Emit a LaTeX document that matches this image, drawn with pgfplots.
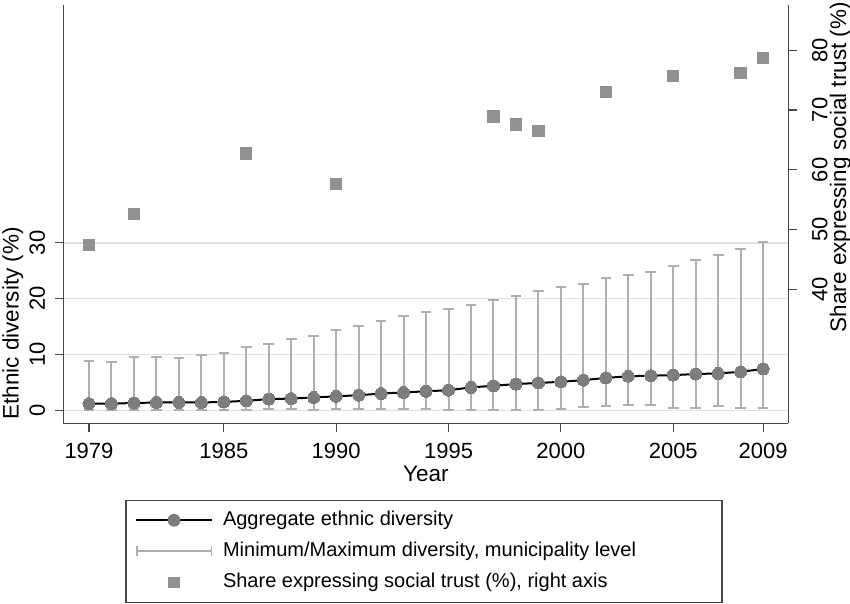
\documentclass[border=0pt]{standalone}
\usepackage{fontspec}
\setmainfont{Liberation Sans}
\usepackage{pgfplots}
\pgfplotsset{compat=1.18}
\usepackage{pgfplotstable}
\definecolor{markgray}{RGB}{125,125,125}
\definecolor{errgray}{RGB}{175,175,175}
\definecolor{sqgray}{RGB}{145,145,145}
\definecolor{gridgray}{RGB}{225,225,225}
\definecolor{axisgray}{RGB}{70,70,70}

\pgfplotstableread{
year agg min max
1979 1.2 0.0 8.8
1980 1.2 0.0 8.7
1981 1.3 0.0 9.6
1982 1.4 0.0 9.5
1983 1.4 0.0 9.3
1984 1.4 0.0 9.9
1985 1.5 0.0 10.3
1986 1.7 0.0 11.3
1987 2.0 0.2 11.9
1988 2.1 0.2 12.7
1989 2.3 0.0 13.3
1990 2.5 0.2 14.3
1991 2.7 0.2 15.1
1992 3.0 0.3 16.0
1993 3.2 0.2 16.9
1994 3.4 0.2 17.6
1995 3.6 0.1 18.2
1996 4.1 0.1 18.9
1997 4.4 0.1 19.7
1998 4.7 0.1 20.5
1999 4.9 0.1 21.3
2000 5.1 0.3 22.1
2001 5.4 0.6 22.7
2002 5.8 0.7 23.7
2003 6.1 0.9 24.3
2004 6.2 0.9 24.7
2005 6.3 0.5 25.9
2006 6.5 0.4 27.0
2007 6.6 0.7 27.8
2008 6.9 0.5 28.9
2009 7.4 0.5 30.2
}\divtab

\pgfplotstableread{
year trust
1979 47.4
1981 52.6
1986 62.7
1990 57.6
1997 68.9
1998 67.6
1999 66.5
2002 73.0
2005 75.7
2008 76.2
2009 78.7
}\trusttab

\begin{document}
\begin{tikzpicture}
\useasboundingbox (0,0) rectangle (850pt,604pt);
\pgfplotsset{
  common/.style={
    scale only axis, width=725pt, height=418.3pt,
    at={(63.3pt,180.7pt)}, anchor=south west,
    xmin=1977.857, xmax=2010.12,
    axis line style={axisgray, line width=1.3pt},
    tick style={axisgray, line width=1.2pt},
    major tick length=8.5pt,
    tick align=outside,
    minor tick num=0,
    /pgf/number format/assume math mode=true,
    /pgf/number format/1000 sep={},
    ticklabel style={font=\fontsize{22}{26}\selectfont, inner sep=0pt},
    label style={font=\fontsize{22.5}{27}\selectfont, inner sep=0pt},
  }
}
\begin{axis}[common,
  axis x line*=bottom, axis y line*=left,
  ymin=-2.33, ymax=72.62,
  xtick={1979,1985,1990,1995,2000,2005,2009},
  ytick={0,10,20,30},
  ymajorgrids, grid style={gridgray, line width=1.3pt},
  xticklabel style={anchor=base, yshift=-26.5pt},
  yticklabel style={anchor=base, xshift=-10pt, rotate=90},
  xlabel={Year},
  xlabel style={at={(axis description cs:0.5,0)}, anchor=base, yshift=-58.6pt},
  ylabel={Ethnic diversity (\%)},
  ylabel style={at={(axis description cs:-0.0697,0.239)}, anchor=center},
]
\addplot[black, line width=2pt, mark=*, mark size=6pt,
  mark options={fill=markgray, draw=markgray, line width=0pt}]
  table[x=year, y=agg] {\divtab};
\addplot[draw=none, mark=none,
  error bars/.cd, y dir=both, y explicit,
  error bar style={draw=errgray, line width=2pt},
  error mark options={draw=errgray, line width=2pt, mark size=5.3pt, rotate=90}]
  table[x=year, y expr=(\thisrow{max}+\thisrow{min})/2,
        y error expr=(\thisrow{max}-\thisrow{min})/2] {\divtab};
\end{axis}
\begin{axis}[common,
  axis x line=none, axis y line*=right,
  ymin=17.64, ymax=87.54,
  ytick={40,50,60,70,80},
  yticklabel style={anchor=north, xshift=15pt, rotate=90},
  ylabel={Share expressing social trust (\%)},
  ylabel style={at={(axis description cs:1.0717,0.6124)}, anchor=center, rotate=0},
  legend cell align=left,
  legend style={at={(axis description cs:0.0857,-0.1826)}, anchor=north west,
    draw=axisgray, line width=1.2pt, fill=white,
    inner xsep=9pt, inner ysep=10pt, row sep=11pt, column sep=10pt,
    font=\fontsize{20}{24}\selectfont,
    nodes={inner sep=0pt, text height=15pt, text depth=5pt}},
]
\addlegendimage{legend image code/.code={
  \draw[black, line width=2pt] (0pt,0pt) -- (76pt,0pt);
  \fill[markgray] (38pt,0pt) circle (5.8pt);}}
\addlegendentry{Aggregate ethnic diversity}
\addlegendimage{legend image code/.code={
  \draw[errgray, line width=2pt] (0pt,0pt) -- (76pt,0pt);
  \draw[errgray, line width=1.5pt] (0.75pt,-5pt) -- (0.75pt,5pt) (75.25pt,-5pt) -- (75.25pt,5pt);}}
\addlegendentry{Minimum/Maximum diversity, municipality level\hspace*{77pt}}
\addplot[only marks, mark=square*, mark size=5.7pt,
  mark options={fill=sqgray, draw=sqgray, line width=0pt},
  legend image code/.code={
    \path[draw=none, fill=none] (0pt,0pt) -- (76pt,0pt);
    \fill[sqgray, draw=none] (32.3pt,-5.7pt) rectangle (43.7pt,5.7pt);}]
  table[x=year, y=trust] {\trusttab};
\addlegendentry{Share expressing social trust (\%), right axis}
\end{axis}
\end{tikzpicture}
\end{document}
